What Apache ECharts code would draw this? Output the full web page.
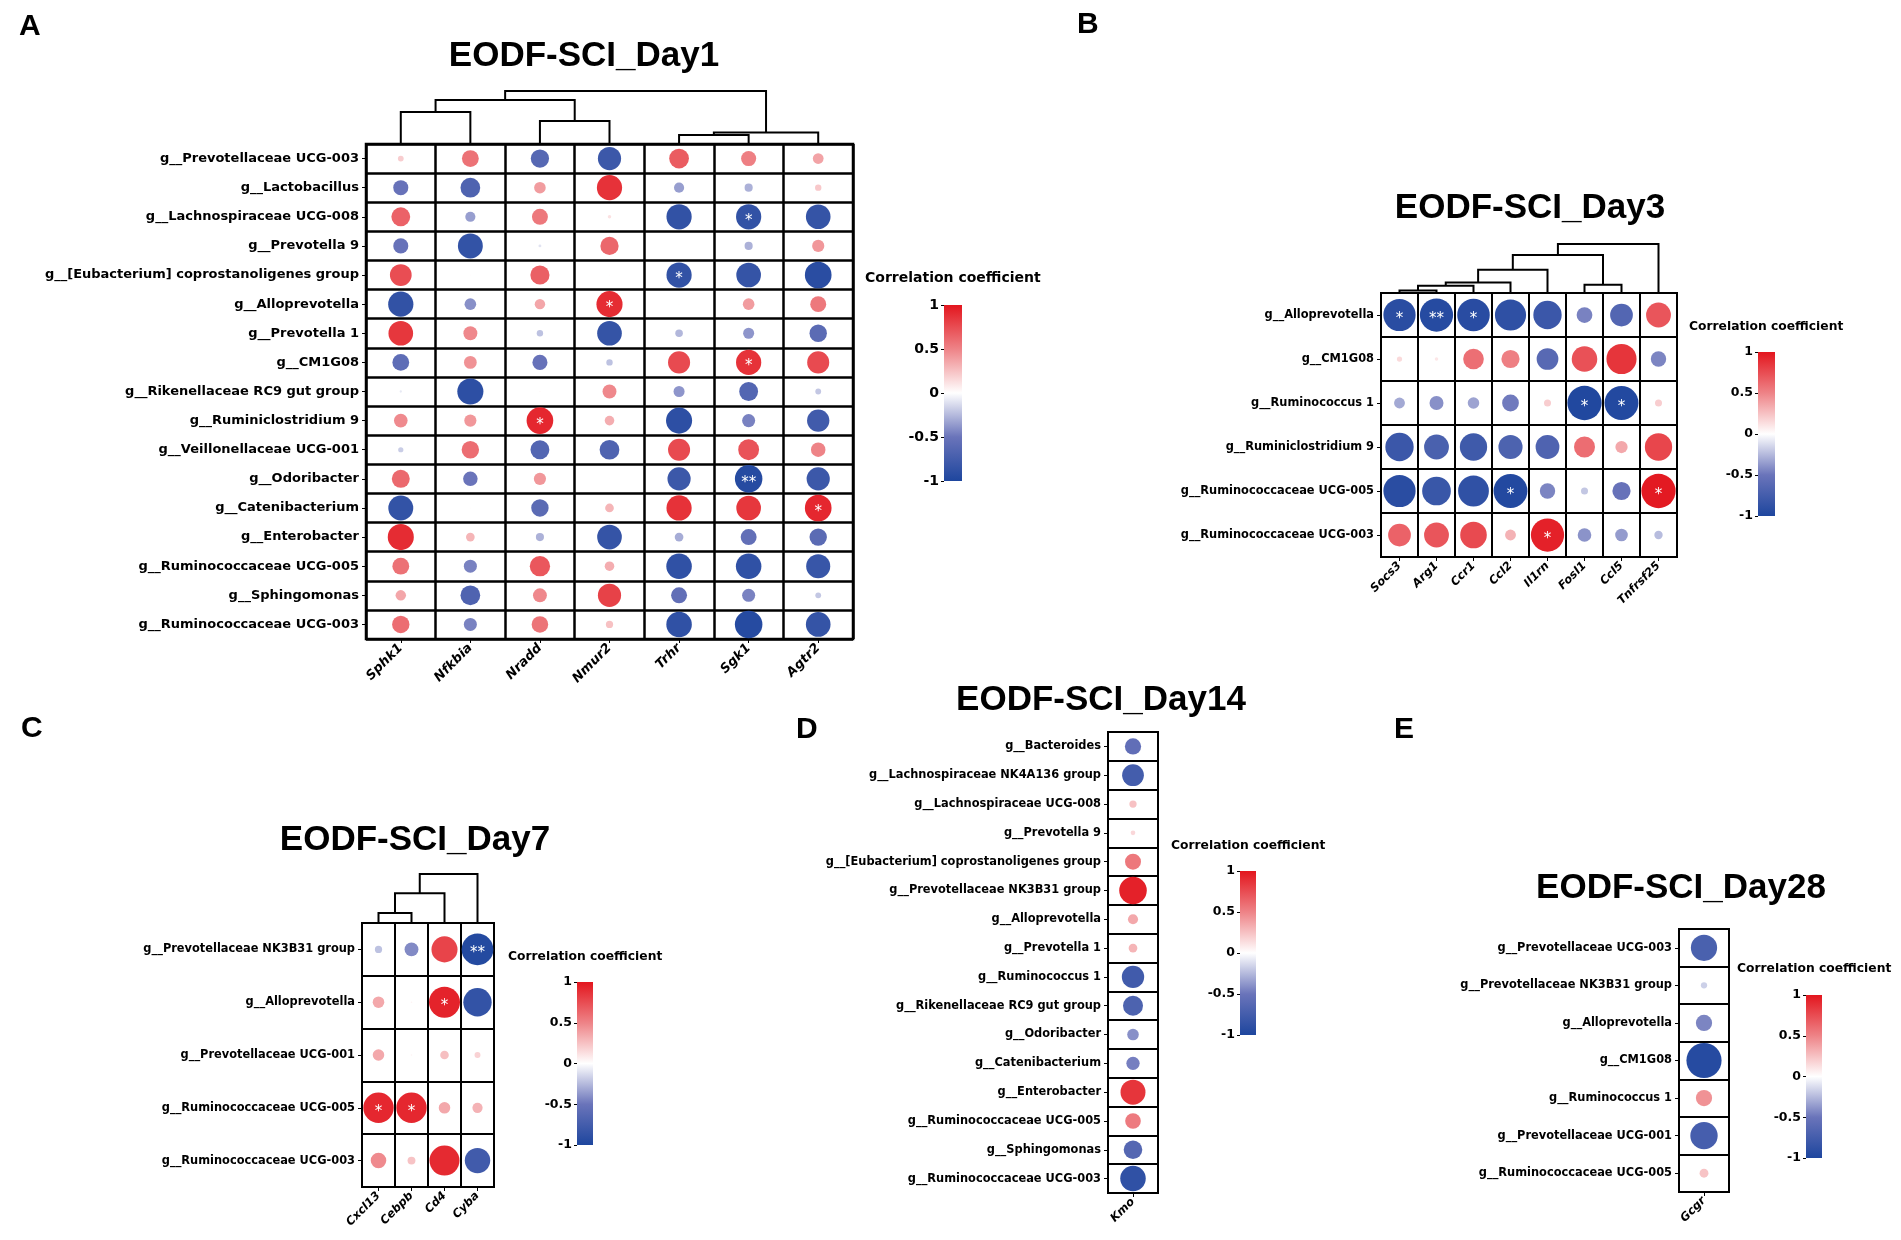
<!DOCTYPE html>
<html><head><meta charset="utf-8">
<script src="https://cdn.jsdelivr.net/npm/echarts@6/dist/echarts.min.js"></script>
<style>html,body{margin:0;padding:0;background:#fff}#main{width:1901px;height:1240px}</style>
</head><body><div id="main"></div>
<script>
// ===== Panel A : EODF-SCI_Day1 =====
const genesA = ['Sphk1','Nfkbia','Nradd','Nmur2','Trhr','Sgk1','Agtr2'];
const taxaA = ['g__Prevotellaceae UCG-003','g__Lactobacillus','g__Lachnospiraceae UCG-008','g__Prevotella 9',
  'g__[Eubacterium] coprostanoligenes group','g__Alloprevotella','g__Prevotella 1','g__CM1G08',
  'g__Rikenellaceae RC9 gut group','g__Ruminiclostridium 9','g__Veillonellaceae UCG-001','g__Odoribacter',
  'g__Catenibacterium','g__Enterobacter','g__Ruminococcaceae UCG-005','g__Sphingomonas','g__Ruminococcaceae UCG-003'];
const corrA = [
  [ 0.20, 0.58,-0.63,-0.80, 0.68, 0.52, 0.37],
  [-0.52,-0.68, 0.40, 0.87,-0.35,-0.28, 0.22],
  [ 0.65,-0.35, 0.55, 0.12,-0.87,-0.87,-0.85],
  [-0.52,-0.86,-0.10, 0.63, 0.00,-0.28, 0.42],
  [ 0.75, 0.03, 0.66, 0.03,-0.87,-0.85,-0.92],
  [-0.87,-0.40, 0.36, 0.90, 0.03, 0.40, 0.55],
  [ 0.85, 0.48,-0.22,-0.85,-0.26,-0.38,-0.60],
  [-0.58, 0.44,-0.52,-0.22, 0.76, 0.87, 0.76],
  [-0.08,-0.90, 0.04, 0.48,-0.38,-0.65,-0.20],
  [ 0.47, 0.42, 0.92, 0.33,-0.90,-0.45,-0.77],
  [-0.18, 0.60,-0.65,-0.68, 0.76, 0.72, 0.50],
  [ 0.62,-0.50, 0.42, 0.02,-0.80,-0.95,-0.80],
  [-0.86, 0.03,-0.60, 0.30, 0.87, 0.85, 0.92],
  [ 0.90, 0.30,-0.28,-0.85,-0.30,-0.55,-0.60],
  [ 0.58,-0.45, 0.70, 0.33,-0.88,-0.88,-0.83],
  [ 0.36,-0.68, 0.48, 0.80,-0.55,-0.45,-0.20],
  [ 0.60,-0.45, 0.57, 0.25,-0.88,-0.95,-0.85]
];
const sigA = [[2,5,'*'],[4,4,'*'],[5,3,'*'],[7,5,'*'],[9,2,'*'],[11,5,'**'],[12,6,'*']];
const dendroA = [[0,1,32],[2,3,23],[4,5,9],[9,6,11.5],[7,8,44],[11,10,53]];

// ===== Panel B : EODF-SCI_Day3 =====
const genesB = ['Socs3','Arg1','Ccr1','Ccl2','Il1rn','Fosl1','Ccl5','Tnfrsf25'];
const taxaB = ['g__Alloprevotella','g__CM1G08','g__Ruminococcus 1','g__Ruminiclostridium 9',
  'g__Ruminococcaceae UCG-005','g__Ruminococcaceae UCG-003'];
const corrB = [
  [-0.92,-0.95,-0.93,-0.89,-0.81,-0.45,-0.65, 0.71],
  [ 0.15, 0.10, 0.59, 0.52,-0.62, 0.73, 0.86,-0.44],
  [-0.31,-0.40,-0.33,-0.48, 0.20,-0.98,-0.97, 0.20],
  [-0.81,-0.71,-0.78,-0.69,-0.68, 0.60, 0.35, 0.78],
  [-0.92,-0.82,-0.88,-0.97,-0.44,-0.20,-0.52, 0.98],
  [ 0.65, 0.71, 0.76, 0.31, 0.95,-0.39,-0.36,-0.24]
];
const sigB = [[0,0,'*'],[0,1,'**'],[0,2,'*'],[2,5,'*'],[2,6,'*'],[4,3,'*'],[4,7,'*'],[5,4,'*']];
const dendroB = [[0,1,2.6],[8,2,7.3],[9,3,10.6],[10,4,23.3],[5,6,8.3],[11,12,38.3],[13,7,49.3]];

// ===== Panel C : EODF-SCI_Day7 =====
const genesC = ['Cxcl13','Cebpb','Cd4','Cyba'];
const taxaC = ['g__Prevotellaceae NK3B31 group','g__Alloprevotella','g__Prevotellaceae UCG-001',
  'g__Ruminococcaceae UCG-005','g__Ruminococcaceae UCG-003'];
const corrC = [
  [-0.22,-0.42, 0.79,-0.96],
  [ 0.35, 0.05, 0.94,-0.86],
  [ 0.35, 0.05, 0.26, 0.18],
  [ 0.92, 0.92, 0.35, 0.31],
  [ 0.47, 0.24, 0.91,-0.77]
];
const sigC = [[0,3,'**'],[1,2,'*'],[3,0,'*'],[3,1,'*']];
const dendroC = [[0,1,10],[4,2,30],[5,3,49.3]];

// ===== Panel D : EODF-SCI_Day14 =====
const genesD = ['Kmo'];
const taxaD = ['g__Bacteroides','g__Lachnospiraceae NK4A136 group','g__Lachnospiraceae UCG-008','g__Prevotella 9',
  'g__[Eubacterium] coprostanoligenes group','g__Prevotellaceae NK3B31 group','g__Alloprevotella','g__Prevotella 1',
  'g__Ruminococcus 1','g__Rikenellaceae RC9 gut group','g__Odoribacter','g__Catenibacterium','g__Enterobacter',
  'g__Ruminococcaceae UCG-005','g__Sphingomonas','g__Ruminococcaceae UCG-003'];
const corrD = [[-0.56],[-0.75],[0.25],[0.16],[0.55],[0.95],[0.35],[0.30],[-0.77],[-0.69],[-0.40],[-0.46],[0.86],[0.54],[-0.64],[-0.88]];
const sigD = [];

// ===== Panel E : EODF-SCI_Day28 =====
const genesE = ['Gcgr'];
const taxaE = ['g__Prevotellaceae UCG-003','g__Prevotellaceae NK3B31 group','g__Alloprevotella','g__CM1G08',
  'g__Ruminococcus 1','g__Prevotellaceae UCG-001','g__Ruminococcaceae UCG-005'];
const corrE = [[-0.71],[-0.17],[-0.44],[-0.95],[0.44],[-0.74],[0.24]];
const sigE = [];

// colour-bar ticks & palette
const cbTicks = [-1, -0.5, 0, 0.5, 1];
const palette = ['#1E469E','#6A74BA','#FFFFFF','#EE8387','#E3161E'];
const legendTitle = 'Correlation coefficient';

// ===== layout (positions / sizes / styles) =====
const panels = [
  {letter:'A', title:'EODF-SCI_Day1', genes:genesA, taxa:taxaA, corr:corrA, sig:sigA, dendro:dendroA,
   grid:{left:366, top:144, width:487, height:495}, dendroTop:91, maxSize:29, fs:13, xfs:13, line:2.5,
   cb:{left:944, top:305, width:18, height:176}, cbFs:14, cbT:{x:865, y:278, fs:14},
   t:{x:584, y:56}, l:{x:19, y:27}},
  {letter:'B', title:'EODF-SCI_Day3', genes:genesB, taxa:taxaB, corr:corrB, sig:sigB, dendro:dendroB,
   grid:{left:1381, top:293, width:296, height:264}, dendroTop:244, maxSize:35, fs:11.4, xfs:11.5, line:2,
   cb:{left:1758, top:352, width:17, height:164}, cbFs:12.5, cbT:{x:1689, y:327, fs:12.3},
   t:{x:1530, y:208}, l:{x:1077, y:25}},
  {letter:'C', title:'EODF-SCI_Day7', genes:genesC, taxa:taxaC, corr:corrC, sig:sigC, dendro:dendroC,
   grid:{left:362, top:923, width:132, height:264}, dendroTop:874, maxSize:33, fs:11.4, xfs:11.5, line:2,
   cb:{left:577, top:982, width:16, height:163}, cbFs:12.5, cbT:{x:508, y:957, fs:12.3},
   t:{x:415, y:840}, l:{x:21, y:729}},
  {letter:'D', title:'EODF-SCI_Day14', genes:genesD, taxa:taxaD, corr:corrD, sig:sigD, dendro:null,
   grid:{left:1108, top:732, width:50, height:461}, maxSize:29, fs:11.4, xfs:11.5, line:2,
   cb:{left:1240, top:871, width:16, height:164}, cbFs:12.5, cbT:{x:1171, y:846, fs:12.3},
   t:{x:1101, y:700}, l:{x:796, y:730}},
  {letter:'E', title:'EODF-SCI_Day28', genes:genesE, taxa:taxaE, corr:corrE, sig:sigE, dendro:null,
   grid:{left:1679, top:929, width:50, height:263}, maxSize:37, fs:11.4, xfs:11.5, line:2,
   cb:{left:1806, top:995, width:16, height:163}, cbFs:12.5, cbT:{x:1737, y:969, fs:12.3},
   t:{x:1681, y:888}, l:{x:1394, y:730}}
];

function buildDendro(n, merges) {
  const pos = [], hgt = [], segs = [];
  for (let i = 0; i < n; i++) { pos[i] = i; hgt[i] = 0; }
  merges.forEach((m, k) => {
    const [a, b, h] = m;
    segs.push([pos[a], pos[b], h, hgt[a], hgt[b]]);
    pos[n + k] = (pos[a] + pos[b]) / 2; hgt[n + k] = h;
  });
  return segs;
}

const FONT = 'DejaVu Sans';
const grids = [], xAxes = [], yAxes = [], series = [], titles = [], scatterIdx = [];

panels.forEach(p => {
  // ---- heat-map grid ----
  const gi = grids.length;
  grids.push(Object.assign({show:true, borderColor:'#000', borderWidth:p.line, backgroundColor:'transparent'}, p.grid));
  xAxes.push({type:'category', gridIndex:gi, data:p.genes, position:'bottom',
    axisLine:{show:false}, axisTick:{show:true, alignWithLabel:true, length:4, lineStyle:{color:'#000'}},
    splitLine:{show:true, interval:0, lineStyle:{color:'#000', width:p.line}},
    axisLabel:{interval:0, rotate:45, margin:7, color:'#000', fontFamily:FONT, fontWeight:'bold', fontStyle:'italic', fontSize:p.xfs}});
  yAxes.push({type:'category', gridIndex:gi, data:p.taxa, inverse:true,
    axisLine:{show:false}, axisTick:{show:true, alignWithLabel:true, length:4, lineStyle:{color:'#000'}},
    splitLine:{show:true, interval:0, lineStyle:{color:'#000', width:p.line}},
    axisLabel:{interval:0, margin:7, color:'#000', fontFamily:FONT, fontWeight:'bold', fontSize:p.fs}});
  const sigMap = {};
  p.sig.forEach(s => { sigMap[s[0] + '_' + s[1]] = s[2]; });
  const data = [];
  p.corr.forEach((row, r) => row.forEach((v, c) => {
    const mark = sigMap[r + '_' + c];
    const item = {value:[c, r, v]};
    if (mark) item.label = {show:true, formatter:mark};
    data.push(item);
  }));
  scatterIdx.push(series.length);
  const ms = p.maxSize;
  series.push({type:'scatter', name:p.title, xAxisIndex:gi, yAxisIndex:gi, data:data,
    symbol:'circle', symbolSize:(val) => Math.abs(val[2]) * ms,
    itemStyle:{opacity:1},
    label:{show:false, position:'inside', color:'#fff', fontSize:15, fontFamily:FONT, offset:[0, 4]},
    emphasis:{disabled:true}, z:3});

  // ---- dendrogram ----
  if (p.dendro) {
    const di = grids.length;
    const hMax = Math.max(...p.dendro.map(m => m[2]));
    grids.push({left:p.grid.left, width:p.grid.width, top:p.dendroTop, height:p.grid.top - p.dendroTop});
    xAxes.push({type:'value', gridIndex:di, min:-0.5, max:p.genes.length - 0.5, show:false});
    yAxes.push({type:'value', gridIndex:di, min:0, max:hMax, show:false});
    series.push({type:'custom', xAxisIndex:di, yAxisIndex:di, clip:false, silent:true,
      data:buildDendro(p.genes.length, p.dendro),
      renderItem:(params, api) => {
        const a = api.coord([api.value(0), api.value(3)]);
        const b = api.coord([api.value(0), api.value(2)]);
        const c = api.coord([api.value(1), api.value(2)]);
        const d = api.coord([api.value(1), api.value(4)]);
        return {type:'polyline', shape:{points:[a, b, c, d]}, style:{stroke:'#000', lineWidth:2, fill:null}};
      }});
  }

  // ---- colour bar ----
  const ci = grids.length;
  grids.push(Object.assign({}, p.cb));
  xAxes.push({type:'category', gridIndex:ci, data:['r'], show:false});
  yAxes.push({type:'value', gridIndex:ci, min:cbTicks[0], max:cbTicks[cbTicks.length - 1], interval:0.5,
    axisLine:{show:false}, splitLine:{show:false},
    axisTick:{show:true, length:3, lineStyle:{color:'#000'}},
    axisLabel:{margin:5, color:'#000', fontFamily:FONT, fontWeight:'bold', fontSize:p.cbFs, formatter:(v) => String(v)}});
  series.push({type:'custom', xAxisIndex:ci, yAxisIndex:ci, silent:true, clip:false,
    data:[[0, cbTicks[0], cbTicks[cbTicks.length - 1]]],
    renderItem:(params, api) => {
      const top = api.coord([api.value(0), api.value(2)]);
      const bot = api.coord([api.value(0), api.value(1)]);
      const w = api.size([1, 0])[0];
      const stops = palette.slice().reverse().map((col, i) => ({offset:i / (palette.length - 1), color:col}));
      return {type:'rect', shape:{x:top[0] - w / 2, y:top[1], width:w, height:bot[1] - top[1]},
        style:{fill:{type:'linear', x:0, y:0, x2:0, y2:1, colorStops:stops}}};
    }});

  // ---- texts ----
  titles.push({text:p.title, left:p.t.x, top:p.t.y, padding:0, textAlign:'center', textVerticalAlign:'middle',
    textStyle:{fontFamily:'Liberation Sans', fontWeight:'bold', fontSize:35, color:'#000'}});
  titles.push({text:p.letter, left:p.l.x, top:p.l.y, padding:0, textAlign:'left', textVerticalAlign:'middle',
    textStyle:{fontFamily:'Liberation Sans', fontWeight:'bold', fontSize:30, color:'#000'}});
  titles.push({text:legendTitle, left:p.cbT.x, top:p.cbT.y, padding:0, textAlign:'left', textVerticalAlign:'middle',
    textStyle:{fontFamily:FONT, fontWeight:'bold', fontSize:p.cbT.fs, color:'#000'}});
});

const chart = echarts.init(document.getElementById('main'), null, {width:1901, height:1240});
chart.setOption({
  animation:false,
  backgroundColor:'#fff',
  title:titles,
  grid:grids,
  xAxis:xAxes,
  yAxis:yAxes,
  visualMap:[{type:'continuous', show:false, min:-1, max:1, dimension:2, seriesIndex:scatterIdx,
    inRange:{color:palette}}],
  series:series
});
</script></body></html>
